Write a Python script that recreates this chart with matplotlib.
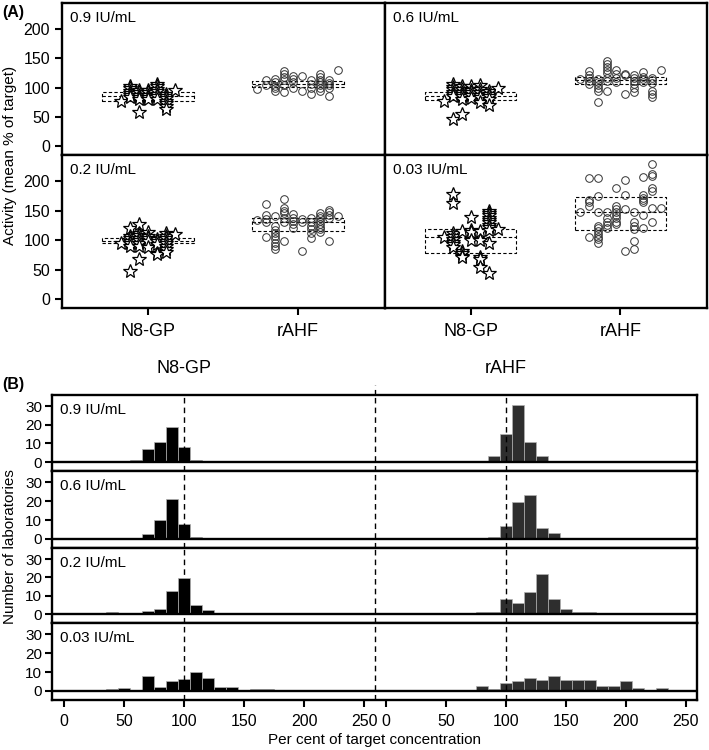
import numpy as np
import matplotlib
matplotlib.use("Agg")
from matplotlib import pyplot as plt

plt.rcParams['font.family'] = ['Liberation Sans', 'DejaVu Sans']

levels = ["0.9 IU/mL", "0.6 IU/mL", "0.2 IU/mL", "0.03 IU/mL"]
products = ["N8-GP", "rAHF"]

# panel A: lab results per column (column index -> % of target)
n8_09 = {-3: [78], -2: [103, 99, 95, 91, 87, 84], -1: [96, 92, 88, 84, 81, 59],
         0: [96, 92, 88, 84, 80], 1: [107, 102, 98, 94, 90, 86, 81],
         2: [89, 86, 82, 78, 74, 69, 64], 3: [96]}
rahf_09 = {-4.5: [98], -3.5: [113, 104], -2.5: [115, 109, 103, 99, 94],
           -1.5: [128, 123, 119, 113, 104, 92], -0.5: [120, 115, 109, 100],
           0.5: [120, 94], 1.5: [113, 106, 100, 89],
           2.5: [123, 118, 113, 109, 104, 100, 95], 3.5: [113, 108, 104, 99, 85],
           4.5: [130]}
n8_06 = {-3: [78], -2: [106, 101, 97, 93, 89, 85, 47], -1: [103, 98, 93, 89, 85, 81, 55],
         0: [102, 96, 92, 87, 83], 1: [104, 98, 93, 88, 84, 75],
         2: [95, 89, 85, 80, 70], 3: [100]}
rahf_06 = {-4.5: [115], -3.5: [128, 122, 116, 111, 106], -2.5: [115, 109, 104, 99, 95, 75],
           -1.5: [145, 140, 136, 130, 125, 117, 111, 95], -0.5: [130, 123, 116, 109],
           0.5: [124, 122, 89], 1.5: [122, 116, 111, 106, 100, 93],
           2.5: [126, 119, 114, 109], 3.5: [117, 113, 108, 95, 89, 84], 4.5: [130]}
n8_02 = {-3: [96], -2: [120, 107, 103, 99, 95, 91, 48],
         -1: [127, 113, 109, 104, 100, 95, 90, 69], 0: [114, 107, 103, 98, 89],
         1: [102, 98, 93, 79, 76], 2: [113, 107, 103, 99, 95, 90, 86, 80], 3: [110]}
rahf_02 = {-4.5: [134], -3.5: [161, 142, 136, 130, 106],
           -2.5: [141, 124, 117, 113, 107, 102, 96, 90, 86],
           -1.5: [169, 154, 150, 146, 137, 130, 99], -0.5: [144, 137, 132, 127, 120],
           0.5: [136, 130, 82], 1.5: [137, 130, 124, 119, 113, 103],
           2.5: [146, 141, 137, 133, 128, 123, 119, 114], 3.5: [151, 147, 142, 137, 99],
           4.5: [141]}
n8_003 = {-3: [106], -2: [178, 163, 112, 107, 102, 97, 93, 88], -1: [116, 82, 78, 74, 71],
          0: [140, 118, 114, 101], 1: [116, 100, 72, 68, 54],
          2: [150, 146, 142, 138, 134, 130, 126, 122, 118, 96, 45], 3: [119]}
rahf_003 = {-4.5: [147], -3.5: [205, 168, 164, 158, 106],
            -2.5: [205, 174, 147, 124, 120, 116, 110, 106, 102, 96],
            -1.5: [147, 137, 131, 125, 120], -0.5: [188, 158, 153, 147, 142, 137, 131, 127],
            0.5: [202, 176, 153, 82], 1.5: [147, 130, 124, 119, 99, 86],
            2.5: [206, 176, 172, 168, 164, 142, 120],
            3.5: [229, 212, 208, 188, 183, 155, 131], 4.5: [155]}
scatter_n8 = [n8_09, n8_06, n8_02, n8_003]
scatter_rahf = [rahf_09, rahf_06, rahf_02, rahf_003]

# box (q1, median, q3)
box_n8 = [(78, 86, 93), (79, 86, 93), (95, 99, 103), (79, 106, 119)]
box_rahf = [(101, 106, 112), (107, 113, 119), (115, 130, 137), (118, 147, 173)]

# panel B: histogram counts, 10 % bins
n8_bins = list(range(40, 180, 10))
rahf_bins = list(range(80, 240, 10))
hist_n8 = [
    [0, 0, 1, 7, 11, 19, 8, 1, 0, 0, 0, 0, 0, 0],
    [0, 0.5, 0.7, 2.5, 10, 21, 8, 1, 0, 0, 0, 0, 0, 0],
    [1, 0, 0, 2, 3, 12.5, 19.5, 5, 2.5, 0, 0, 0, 0, 0],
    [1, 1.3, 0, 8, 2, 5.5, 6.5, 10, 7, 2, 2, 0, 1, 1],
]
hist_rahf = [
    [0, 3, 15, 30.5, 11, 3, 0, 0, 0, 0, 0, 0, 0, 0, 0, 0],
    [0.5, 1, 7, 19.5, 23.5, 6, 3, 0, 0, 0, 0, 0, 0, 0, 0, 0],
    [1, 1, 8, 6, 12, 22, 8, 3, 1, 1, 0, 0, 0, 0, 0, 0],
    [2.5, 1, 4, 5.5, 7, 6, 8, 6, 6, 6, 2.5, 2.5, 5.5, 1.4, 0, 1.4],
]
pct_ticks = [0, 50, 100, 150, 200, 250]

W, H = 709, 750
fig = plt.figure(figsize=(W / 100, H / 100), dpi=100)


def rect(x0, y0, x1, y1):
    return [x0 / W, 1 - y1 / H, (x1 - x0) / W, (y1 - y0) / H]


dash = (0, (3, 2))
col_step = 0.06

# ---- panel A
xs = [62, 385, 707]
ys = [3, 155, 308]
for i in range(4):
    r, c = divmod(i, 2)
    ax = fig.add_axes(rect(xs[c], ys[r], xs[c + 1], ys[r + 1]))
    ax.set_xlim(-0.573, 1.58)
    ax.set_ylim(-14.5, 244)
    for j, (boxes, pts) in enumerate([(box_n8, scatter_n8), (box_rahf, scatter_rahf)]):
        q1, med, q3 = boxes[i]
        st = dict(med=med, q1=q1, q3=q3, whislo=q1, whishi=q3, fliers=[])
        ax.bxp([st], positions=[j], widths=0.61, showfliers=False, showcaps=False,
               manage_ticks=False,
               boxprops=dict(linestyle=dash, linewidth=0.8, color='black'),
               medianprops=dict(linestyle=dash, linewidth=0.8, color='black'),
               whiskerprops=dict(linewidth=0))
        px, py = [], []
        for col, vals in pts[i].items():
            px += [j + col * col_step] * len(vals)
            py += vals
        if j == 0:
            ax.plot(px, py, linestyle='none', marker='*', ms=10, mfc='white',
                    mec='black', mew=0.9, zorder=3)
        else:
            ax.plot(px, py, linestyle='none', marker='o', ms=5.5, mfc='none',
                    mec='#333333', mew=0.7, zorder=3)
    ax.text(0.025, 0.95, levels[i], transform=ax.transAxes, ha='left', va='top',
            fontsize=11)
    for s in ax.spines.values():
        s.set_linewidth(1.7)
    ax.tick_params(direction='out', length=5, width=1.5, labelsize=11.5)
    if c == 0:
        ax.set_yticks([0, 50, 100, 150, 200])
    else:
        ax.set_yticks([])
    if r == 1:
        ax.set_xticks([0, 1])
        ax.set_xticklabels(products, fontsize=13)
        ax.tick_params(axis='x', pad=6)
    else:
        ax.set_xticks([])

fig.text(0.003, 1 - 12 / H, "(A)", fontsize=11.5, fontweight='bold', va='center')
fig.text(0.014, 1 - 155 / H, "Activity (mean % of target)", rotation=90,
         ha='center', va='center', fontsize=11)

# ---- panel B
shift = 268.3
divider = 259.2
rows_y = [395, 471, 548, 623, 700]
axes_b = []
for i in range(4):
    ax = fig.add_axes(rect(52, rows_y[i], 697, rows_y[i + 1]))
    axes_b.append(ax)
    ax.set_xlim(-10, 527.5)
    ax.set_ylim(-4.8, 36)
    ax.bar(n8_bins, hist_n8[i], width=10, color='black', edgecolor='#b0b0b0',
           linewidth=0.5, zorder=2)
    ax.bar(np.array(rahf_bins) + shift, hist_rahf[i], width=10, color='#2e2e2e',
           edgecolor='#b0b0b0', linewidth=0.5, zorder=2)
    ax.axhline(0, color='black', linewidth=1.7, zorder=3)
    for xv in (100, 100 + shift, divider):
        ax.axvline(xv, color='black', linestyle=(0, (4, 3)), linewidth=1.0, zorder=4)
    ax.text(0.012, 0.89, levels[i], transform=ax.transAxes, ha='left', va='top',
            fontsize=11)
    for s in ax.spines.values():
        s.set_linewidth(1.7)
    ax.set_yticks([0, 10, 20, 30])
    ax.tick_params(direction='out', length=5, width=1.5, labelsize=11, pad=2)
    if i == 3:
        ax.set_xticks(pct_ticks + [t + shift for t in pct_ticks])
        ax.set_xticklabels([str(t) for t in pct_ticks] * 2)
        ax.tick_params(axis='x', pad=5, labelsize=11.5)
        ax.set_xlabel("Per cent of target concentration", fontsize=11, labelpad=3)
    else:
        ax.set_xticks([])

top = axes_b[0]
top.plot([divider, divider], [36, 41.5], color='black', linestyle=(0, (4, 3)),
         linewidth=1.0, clip_on=False)
top.text(100, 1.355, products[0], transform=top.get_xaxis_transform(),
         ha='center', va='center', fontsize=13)
top.text(100 + shift, 1.355, products[1], transform=top.get_xaxis_transform(),
         ha='center', va='center', fontsize=13)

fig.text(0.003, 1 - 385 / H, "(B)", fontsize=11.5, fontweight='bold', va='center')
fig.text(0.014, 1 - 547 / H, "Number of laboratories", rotation=90,
         ha='center', va='center', fontsize=11)

fig.savefig("out.png", dpi=100)
